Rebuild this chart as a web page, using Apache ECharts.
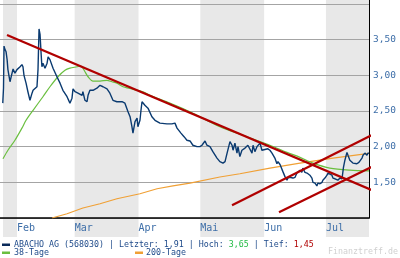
<!DOCTYPE html>
<html>
<head>
<meta charset="utf-8">
<script src="https://cdn.jsdelivr.net/npm/echarts@6/dist/echarts.min.js"></script>
<style>html,body{margin:0;padding:0;background:#fff}#c{width:400px;height:258px}</style>
</head>
<body>
<div id="c"></div>
<script>
// Days are day-of-year (Jan 1 = 0)
const monthNames = ['Feb', 'Mar', 'Apr', 'Mai', 'Jun', 'Jul'];
const monthStarts = [31, 59, 90, 120, 151, 181];
const bandStarts = [24.2, 59, 120, 181];
const bandEnds = [31, 90, 151, 201.9];

const priceDays = [24.1,24.45,24.7,25.2,25.7,26.2,26.6,27.6,28.6,29.1,30.0,31.0,32.5,33.4,33.9,34.4,35.4,36.3,37.3,38.3,38.8,39.7,40.7,41.2,41.7,42.2,42.7,43.1,43.6,44.6,45.6,46.1,47.0,48.5,50.4,51.9,53.3,55.3,56.7,57.7,58.2,59.2,60.6,62.6,63.0,64.0,65.0,65.5,66.4,67.9,69.8,71.3,72.8,74.7,76.1,77.6,79.5,82.0,83.4,84.9,85.9,86.8,87.3,88.3,89.3,89.7,90.7,91.2,91.7,92.2,93.1,94.6,96.5,98.0,100.4,103.8,106.2,107.7,108.7,110.6,112.1,113.5,115.0,116.4,118.4,119.8,120.8,122.3,123.2,124.7,126.1,128.1,129.5,131.0,132.0,133.0,134.4,135.4,135.9,136.8,137.8,138.3,139.2,140.2,141.7,143.1,145.1,145.6,146.5,147.5,149.0,149.9,150.4,152.8,153.8,154.8,156.2,157.2,157.7,158.7,159.6,160.1,161.1,162.1,162.5,163.5,165.0,166.0,166.9,167.4,168.4,169.3,169.8,170.8,171.8,172.3,173.2,174.2,174.7,175.7,176.6,177.1,178.1,179.1,179.5,180.5,181.5,182.0,182.9,183.9,184.4,185.4,186.3,186.8,187.8,188.8,189.3,189.5,190.2,191.2,191.7,192.6,194.1,196.0,197.0,198.5,199.0,199.9,200.9,201.4,201.9];
const priceValues = [2.61,2.82,3.41,3.36,3.33,3.22,3.08,2.91,3.03,3.09,3.03,3.08,3.12,3.15,3.12,3.00,2.89,2.77,2.65,2.75,2.79,2.77,2.84,3.08,3.65,3.57,3.31,3.12,3.17,3.10,3.17,3.26,3.22,3.10,2.98,2.89,2.79,2.70,2.61,2.68,2.81,2.77,2.75,2.72,2.77,2.65,2.63,2.72,2.79,2.79,2.82,2.86,2.84,2.81,2.75,2.65,2.63,2.63,2.61,2.49,2.42,2.28,2.19,2.35,2.40,2.28,2.37,2.51,2.63,2.65,2.58,2.54,2.42,2.37,2.33,2.32,2.32,2.33,2.26,2.19,2.14,2.09,2.08,2.02,2.00,2.00,2.02,2.08,2.02,2.00,1.93,1.84,1.79,1.77,1.79,1.91,2.07,2.02,1.95,2.05,1.91,2.00,1.86,1.95,1.98,2.02,1.91,2.02,1.93,2.00,2.05,1.95,1.95,1.97,1.95,1.91,1.84,1.76,1.79,1.75,1.77,1.65,1.58,1.53,1.56,1.57,1.56,1.57,1.63,1.64,1.67,1.64,1.70,1.64,1.63,1.64,1.60,1.56,1.50,1.49,1.45,1.49,1.48,1.50,1.53,1.56,1.60,1.63,1.64,1.60,1.56,1.55,1.56,1.53,1.56,1.55,1.56,1.71,1.81,1.92,1.88,1.81,1.77,1.76,1.78,1.84,1.88,1.91,1.88,1.91,1.91];

const ma38Days = [24.2,26.6,30.0,33.4,35.4,38.8,43.6,47.0,50.9,54.3,56.7,60.1,61.6,62.6,64.0,65.5,67.9,71.3,74.7,77.1,79.5,82.5,92.2,95.6,105.3,115.0,129.5,140.7,153.8,162.1,168.4,174.7,182.9,192.6,201.9];
const ma38Values = [1.83,1.95,2.09,2.26,2.37,2.51,2.70,2.84,2.98,3.07,3.10,3.12,3.13,3.12,3.05,2.98,2.92,2.92,2.93,2.91,2.89,2.84,2.77,2.72,2.61,2.49,2.28,2.16,2.02,1.92,1.85,1.77,1.70,1.67,1.66];

const ma200Days = [48.0,55.3,63.0,71.3,79.5,90.7,99.0,106.7,115.0,129.5,139.2,153.8,168.4,184.4,201.9];
const ma200Values = [1.00,1.06,1.14,1.20,1.27,1.34,1.41,1.45,1.49,1.575,1.62,1.70,1.77,1.84,1.905];

// Trend lines: start/end day and value
const trendStartDays = [26.15, 135.4, 158.2];
const trendStartValues = [3.565, 1.18, 1.08];
const trendEndDays = [206.7, 216.9, 216.9];
const trendEndValues = [1.35, 2.36, 1.91];

const stock = 'ABACHO AG (568030)';
const lastPrice = '1,91', highPrice = '3,65', lowPrice = '1,45';

const X_MIN = 22.75, X_MAX = 201.9;
const zip = (a, b) => a.map((v, i) => [v, b[i]]);

const chart = echarts.init(document.getElementById('c'), null, {renderer: 'canvas'});
const monoFont = '"DejaVu Sans Mono", monospace';
const labelBlue = '#3d6ea8';

const trendSeries = trendStartDays.map((d, i) => ({
  type: 'line', xAxisIndex: 1, yAxisIndex: 1, clip: false, silent: true,
  symbol: 'none', z: 6,
  lineStyle: {color: '#b00000', width: 2.2},
  data: [[d, trendStartValues[i]], [trendEndDays[i], trendEndValues[i]]]
}));

chart.setOption({
  animation: false,
  grid: [
    {left: 0, right: 31, top: 0, bottom: 21},
    {left: 0, right: 31, top: 0, height: 218}
  ],
  xAxis: [
    {gridIndex: 0, type: 'value', min: X_MIN, max: X_MAX, show: false},
    {gridIndex: 1, type: 'value', min: X_MIN, max: X_MAX,
     axisLine: {show: true, lineStyle: {color: '#000', width: 1.5}},
     axisTick: {show: false}, splitLine: {show: false},
     axisLabel: {customValues: monthStarts, align: 'left', margin: 5,
       color: labelBlue, fontFamily: monoFont, fontSize: 10,
       formatter: v => monthNames[monthStarts.indexOf(v)] || ''}}
  ],
  yAxis: [
    {gridIndex: 0, type: 'value', min: 0, max: 1, show: false},
    {gridIndex: 1, type: 'value', position: 'right', min: 1, max: 4.056, interval: 0.5,
     axisLine: {show: true, lineStyle: {color: '#000', width: 1}},
     axisTick: {show: false},
     splitLine: {show: true, showMaxLine: false, lineStyle: {color: '#a4a4a4', width: 1}},
     axisLabel: {margin: 4, color: labelBlue, fontFamily: monoFont, fontSize: 9.5,
       showMaxLabel: false,
       formatter: v => (v < 1.25 || v > 3.75) ? '' : v.toFixed(2).replace('.', ',')}}
  ],
  series: [
    {type: 'line', xAxisIndex: 0, yAxisIndex: 0, z: -1, silent: true, symbol: 'none',
     lineStyle: {opacity: 0}, data: [[X_MIN, 0]],
     markArea: {silent: true, z: -1, itemStyle: {color: '#e8e8e8'},
       data: bandStarts.map((s, i) => [{xAxis: s}, {xAxis: bandEnds[i]}])}},
    {type: 'line', xAxisIndex: 1, yAxisIndex: 1, symbol: 'none', z: 3,
     lineStyle: {color: '#f0a035', width: 1.2}, data: zip(ma200Days, ma200Values)},
    {type: 'line', xAxisIndex: 1, yAxisIndex: 1, symbol: 'none', z: 3, smooth: 0.3,
     lineStyle: {color: '#6abf3f', width: 1.2}, data: zip(ma38Days, ma38Values)},
    {type: 'line', xAxisIndex: 1, yAxisIndex: 1, symbol: 'none', z: 4,
     lineStyle: {color: '#0a3a70', width: 1.4}, data: zip(priceDays, priceValues)},
    ...trendSeries
  ],
  graphic: [
    {type: 'rect', shape: {x: 2, y: 243.5, width: 8, height: 2.5}, style: {fill: '#0a2a5a'}},
    {type: 'text', x: 14, y: 245, style: {
      text: stock + ' | Letzter: ' + lastPrice + ' | Hoch: {g|' + highPrice + '} | Tief: {r|' + lowPrice + '}',
      font: '8.3px ' + monoFont, fill: '#1e4a8a', verticalAlign: 'middle',
      rich: {g: {fill: '#22bb44', font: '8.3px ' + monoFont}, r: {fill: '#b00000', font: '8.3px ' + monoFont}}}},
    {type: 'rect', shape: {x: 2, y: 251.5, width: 8, height: 2.5}, style: {fill: '#6abf3f'}},
    {type: 'text', x: 14, y: 253, style: {text: '38-Tage', font: '8.3px ' + monoFont, fill: '#1e4a8a', verticalAlign: 'middle'}},
    {type: 'rect', shape: {x: 135, y: 251.5, width: 8, height: 2.5}, style: {fill: '#f0a035'}},
    {type: 'text', x: 146, y: 253, style: {text: '200-Tage', font: '8.3px ' + monoFont, fill: '#1e4a8a', verticalAlign: 'middle'}},
    {type: 'text', x: 398, y: 252, style: {text: 'Finanztreff.de', font: '8.3px ' + monoFont, fill: '#d0d0d0', align: 'right', verticalAlign: 'middle'}}
  ]
});
</script>
</body>
</html>
